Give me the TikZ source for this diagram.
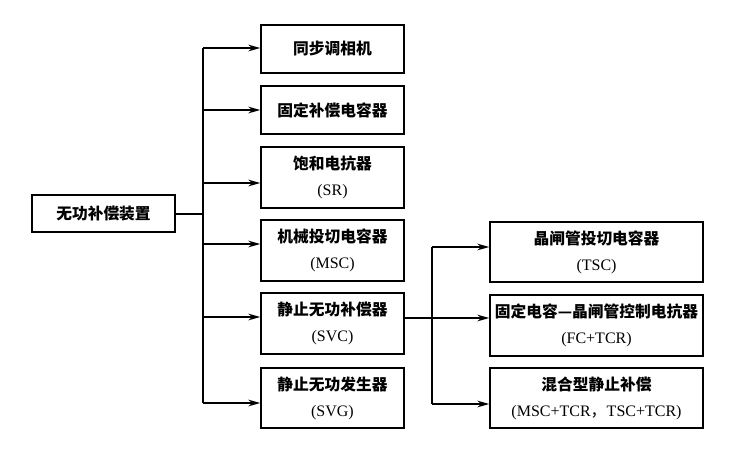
\documentclass[tikz,border=0pt]{standalone}
\usepackage{fontspec}
\setmainfont{Liberation Serif}
\newfontfamily\cjk{Noto Sans CJK SC}
\usetikzlibrary{arrows.meta}
\tikzset{
  box/.style={draw, line width=1.1pt, inner sep=0pt, align=center,
    font=\fontsize{12}{19.5}\selectfont},
  arr/.style={line width=1.1pt, -{Stealth[length=9pt,width=5pt]}},
  ln/.style={line width=1.1pt}
}
\newcommand{\zh}[1]{{\cjk\bfseries\fontsize{11.8}{19.5}\selectfont #1}}
\begin{document}
\begin{tikzpicture}[x=0.75pt,y=-0.75pt]
\useasboundingbox[fill=white] (0,0) rectangle (754,455);
% root
\node[box, minimum width=143*0.75pt, minimum height=37*0.75pt] (root) at (103.5,213.5) {\zh{无功补偿装置}};
% left column
\node[box, minimum width=143*0.75pt, minimum height=48*0.75pt] (l1) at (332.5,49) {\zh{同步调相机}};
\node[box, minimum width=143*0.75pt, minimum height=48*0.75pt] (l2) at (332.5,110) {\zh{固定补偿电容器}};
\node[box, minimum width=143*0.75pt, minimum height=61*0.75pt] (l3) at (332.5,177.5) {\zh{饱和电抗器}\\(SR)};
\node[box, minimum width=143*0.75pt, minimum height=61*0.75pt] (l4) at (332.5,250.5) {\zh{机械投切电容器}\\(MSC)};
\node[box, minimum width=143*0.75pt, minimum height=61*0.75pt] (l5) at (332.5,323.5) {\zh{静止无功补偿器}\\(SVC)};
\node[box, minimum width=143*0.75pt, minimum height=60*0.75pt] (l6) at (332.5,398) {\zh{静止无功发生器}\\(SVG)};
% right column
\node[box, minimum width=213*0.75pt, minimum height=60*0.75pt] (r1) at (596.5,252) {\zh{晶闸管投切电容器}\\(TSC)};
\node[box, minimum width=213*0.75pt, minimum height=61*0.75pt] (r2) at (596.5,325.5) {\zh{固定电容—晶闸管控制电抗器}\\(FC+TCR)};
\node[box, minimum width=213*0.75pt, minimum height=60*0.75pt] (r3) at (596.5,398) {\zh{混合型静止补偿}\\(MSC+TCR{\cjk ，}TSC+TCR)};
% trunk coordinates
\coordinate (t1) at (203,48);
\coordinate (t2) at (203,110);
\coordinate (t3) at (203,183);
\coordinate (t4) at (203,244);
\coordinate (t5) at (203,317);
\coordinate (t6) at (203,403);
\coordinate (tr) at (203,214);
\coordinate (s1) at (432,247);
\coordinate (s2) at (432,318);
\coordinate (s3) at (432,404);
% connectors
\draw[ln] (root.east |- tr) -- (tr);
\draw[ln] (t1) -- (t6);
\draw[arr] (t1) -- (l1.west |- t1);
\draw[arr] (t2) -- (l2.west |- t2);
\draw[arr] (t3) -- (l3.west |- t3);
\draw[arr] (t4) -- (l4.west |- t4);
\draw[arr] (t5) -- (l5.west |- t5);
\draw[arr] (t6) -- (l6.west |- t6);
\draw[ln] (l5.east |- s2) -- (s2);
\draw[ln] (s1) -- (s3);
\draw[arr] (s1) -- (r1.west |- s1);
\draw[arr] (s2) -- (r2.west |- s2);
\draw[arr] (s3) -- (r3.west |- s3);
\end{tikzpicture}
\end{document}
